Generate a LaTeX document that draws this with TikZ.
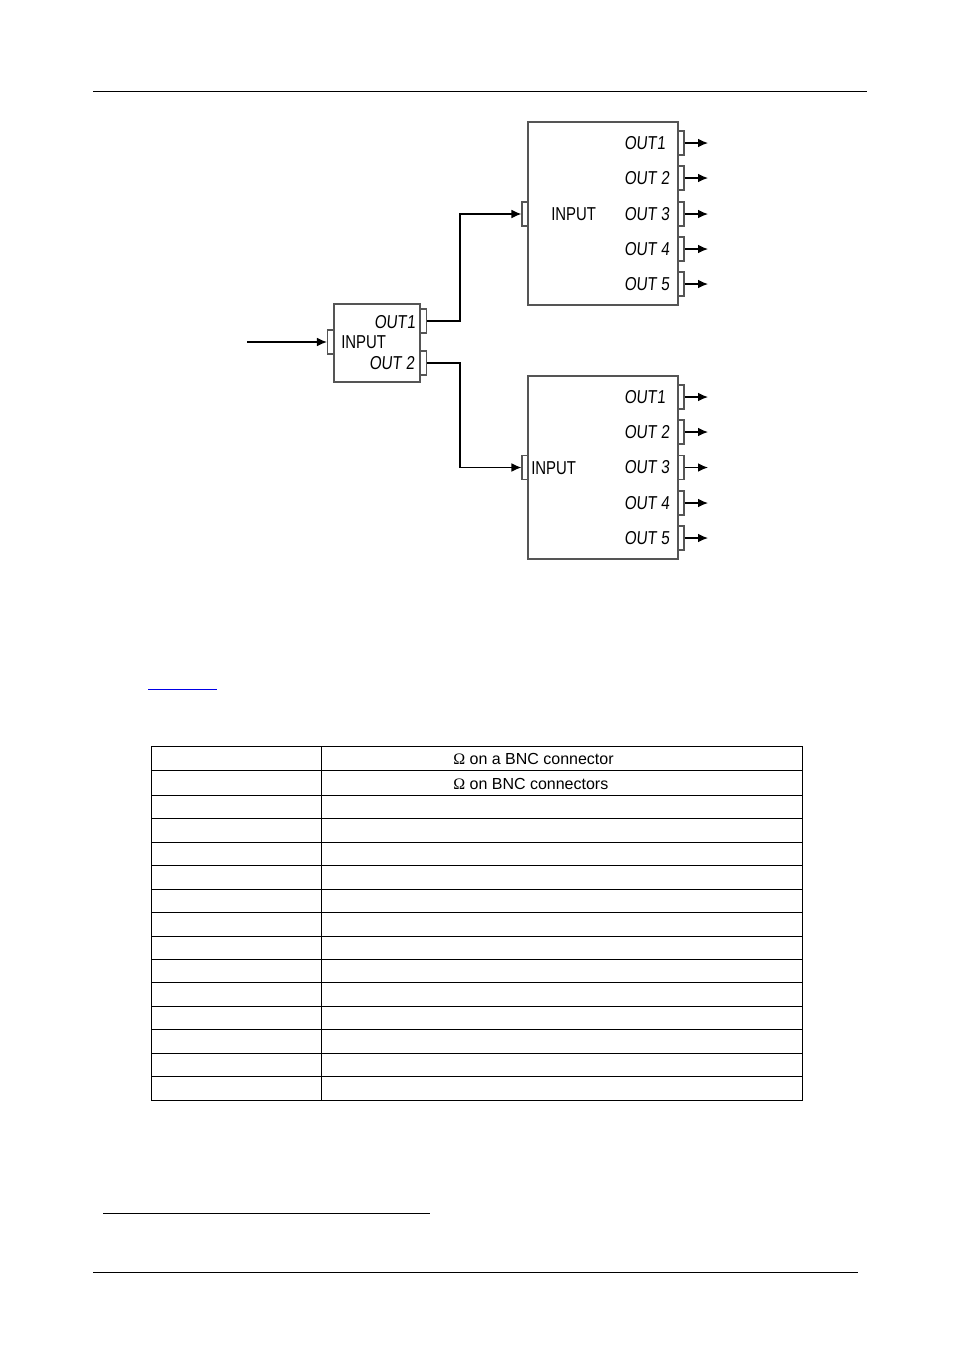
\documentclass[tikz,border=0pt]{standalone}
\usepackage{fontspec}
\setmainfont{Liberation Sans}
\newfontfamily\inputfont[FakeStretch=0.8]{Liberation Sans}
\newfontfamily\outfont[FakeStretch=0.82,FakeSlant=0.1]{Liberation Sans}
\newfontfamily\symbfont{Liberation Serif}
\usetikzlibrary{arrows.meta}
\definecolor{boxgray}{RGB}{85,85,85}
\definecolor{linkblue}{RGB}{0,0,230}
\newcommand{\outtext}[1]{OUT\ifnum#1=1\kern-3pt\fi\ #1}
\tikzset{
  unitbox/.style={draw=boxgray,line width=1.3pt,inner sep=0pt,fill=white},
  portbox/.style={draw=boxgray,line width=1.1pt,inner sep=0pt,minimum width=4.2pt,minimum height=18pt,fill=white},
  inlabel/.style={inner sep=0pt,anchor=west,font=\inputfont\fontsize{14}{14}\selectfont},
  outlabel/.style={inner sep=0pt,anchor=west,font=\outfont\fontsize{14}{14}\selectfont},
  feed/.style={line width=0.9pt,-{Latex[length=7.5pt,width=6.5pt]}},
  cell/.style={inner sep=0pt,font=\fontsize{12}{12}\selectfont},
}
\begin{document}
\begin{tikzpicture}[x=0.75pt,y=0.75pt,yscale=-1,xscale=1]
\useasboundingbox (0,0) rectangle (954,1354);

%page rules
\draw [line width=0.6pt] (93,91.5) -- (867,91.5);
\draw [line width=0.6pt] (93,1272.5) -- (858,1272.5);
\draw [line width=0.6pt] (103,1213.5) -- (430,1213.5);
\draw [color=linkblue,line width=0.75pt] (148,689.5) -- (217,689.5);

%Splitter
\node [unitbox,minimum width=65pt,minimum height=58pt] (split) at (377,343) {};
\node [portbox] (splitin) at (330.5,342) {};
\node [portbox] (splitouta) at (423.5,321) {};
\node [portbox] (splitoutb) at (423.5,363) {};
\node [outlabel] (splitlabela) at (374,322) {\outtext{1}};
\node [inlabel] (splitlabelin) at (341,342) {INPUT};
\node [outlabel] (splitlabelb) at (369,363) {\outtext{2}};
\coordinate (source) at (247,342);
\draw [feed] (source) -- (splitin.west);

%Upper unit
\node [unitbox,minimum width=112.5pt,minimum height=137.5pt] (upper) at (603,213.5) {};
\node [portbox] (upperin) at (525,214) {};
\node [inlabel] (upperlabelin) at (551,214.5) {INPUT};
\foreach \n/\y in {1/143,2/178,3/214,4/249,5/284}{
  \node [portbox] (upperout\n) at (681,\y) {};
  \node [outlabel] (upperlabel\n) at (624,\y) {\outtext{\n}};
  \coordinate (upperend\n) at (708,\y);
  \draw [feed] (upperout\n.east) -- (upperend\n);
}

%Lower unit
\node [unitbox,minimum width=112.5pt,minimum height=137.5pt] (lower) at (603,467.5) {};
\node [portbox] (lowerin) at (525,467.5) {};
\node [inlabel] (lowerlabelin) at (531,468) {INPUT};
\foreach \n/\y in {1/397,2/432,3/467.5,4/503,5/538}{
  \node [portbox] (lowerout\n) at (681,\y) {};
  \node [outlabel] (lowerlabel\n) at (624,\y) {\outtext{\n}};
  \coordinate (lowerend\n) at (708,\y);
  \draw [feed] (lowerout\n.east) -- (lowerend\n);
}

%Links
\coordinate (bendup) at (460,214);
\coordinate (benddown) at (460,467.5);
\draw [feed] (splitouta.east) -| (bendup) -- (upperin.west);
\draw [feed] (splitoutb.east) -| (benddown) -- (lowerin.west);

%Table
\foreach \y in {746.5,770.5,795.5,818.5,842.5,865.5,889.5,912.5,936.5,959.5,982.5,1006.5,1029.5,1053.5,1076.5,1100.5}{
  \draw [line width=0.6pt] (151,\y) -- (803,\y);
}
\foreach \x in {151.5,321.5,802.5}{
  \draw [line width=0.6pt] (\x,746) -- (\x,1101);
}
\node [cell,anchor=west] (rowa) at (453,759) {{\symbfont Ω} on a BNC connector};
\node [cell,anchor=west] (rowb) at (453,784) {{\symbfont Ω} on BNC connectors};
\end{tikzpicture}
\end{document}
